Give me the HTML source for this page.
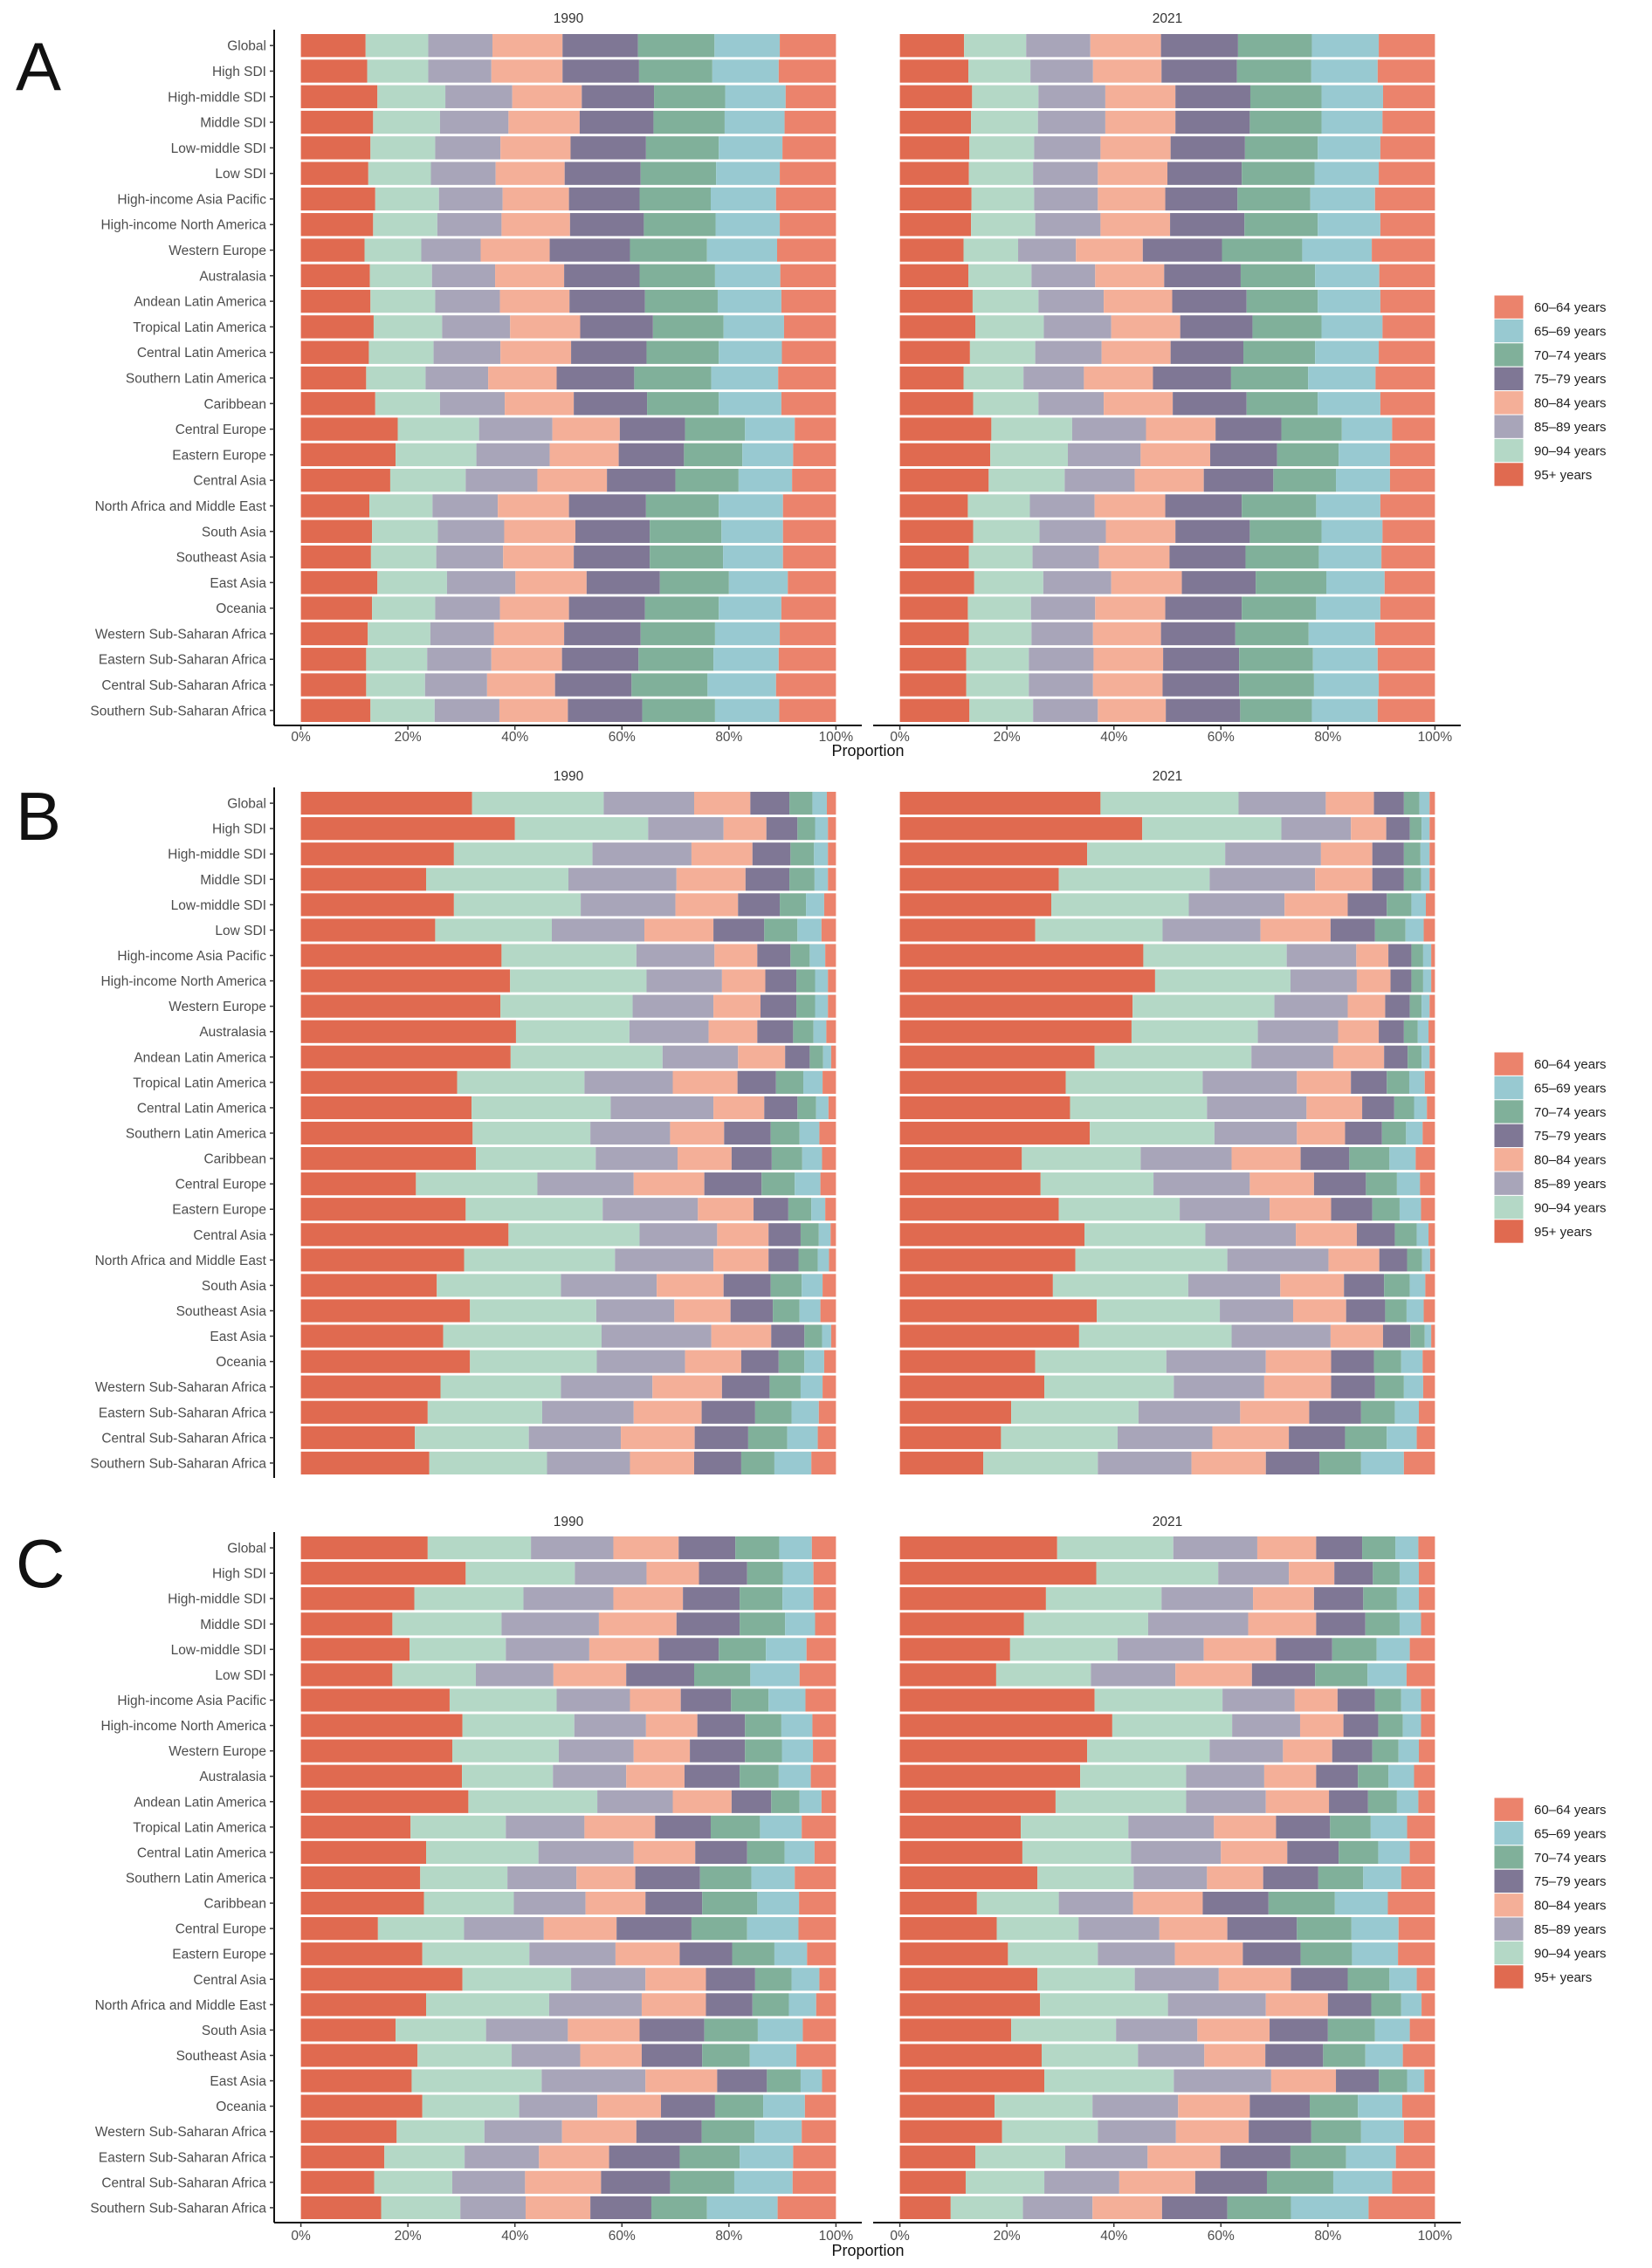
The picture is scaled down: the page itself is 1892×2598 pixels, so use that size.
<!DOCTYPE html>
<html><head><meta charset="utf-8"><title>Population proportion by age group</title>
<style>
html,body{margin:0;padding:0;background:#fff;}
svg{display:block;font-family:"Liberation Sans",Arial,sans-serif;}
</style></head>
<body>
<svg id="chart" width="1892" height="2598" viewBox="0 0 1892 2598" xmlns="http://www.w3.org/2000/svg"></svg>
<script>
const regions = ["Global","High SDI","High-middle SDI","Middle SDI","Low-middle SDI","Low SDI","High-income Asia Pacific","High-income North America","Western Europe","Australasia","Andean Latin America","Tropical Latin America","Central Latin America","Southern Latin America","Caribbean","Central Europe","Eastern Europe","Central Asia","North Africa and Middle East","South Asia","Southeast Asia","East Asia","Oceania","Western Sub-Saharan Africa","Eastern Sub-Saharan Africa","Central Sub-Saharan Africa","Southern Sub-Saharan Africa"];
const stackOrder = ["95+ years","90-94 years","85-89 years","80-84 years","75-79 years","70-74 years","65-69 years","60-64 years"];
const legendOrder = ["60\u201364 years","65\u201369 years","70\u201374 years","75\u201379 years","80\u201384 years","85\u201389 years","90\u201394 years","95+ years"];
const years = ["1990","2021"];
const tickLabels = ["0%","20%","40%","60%","80%","100%"];
const tickValues = [0,20,40,60,80,100];

// cumulative breakpoints (%) from left: after 95+, 90-94, 85-89, 80-84, 75-79, 70-74, 65-69
const cumA1990 = [
[12.1,23.8,35.8,48.9,63.0,77.3,89.5],[12.4,23.8,35.6,48.9,63.2,76.9,89.3],[14.3,27,39.5,52.5,66,79.3,90.6],[13.5,26,38.8,52.1,65.9,79.2,90.4],[13,25.1,37.3,50.4,64.5,78.1,90],[12.6,24.3,36.4,49.3,63.5,77.6,89.5],[13.9,25.8,37.7,50.1,63.3,76.6,88.8],[13.5,25.5,37.5,50.3,64.1,77.5,89.5],[11.9,22.5,33.6,46.5,61.5,75.9,89],[12.9,24.5,36.3,49.2,63.3,77.4,89.6],[13,25.1,37.2,50.2,64.3,77.9,89.8],[13.6,26.4,39.1,52.2,65.8,79,90.3],[12.7,24.8,37.3,50.5,64.6,78.1,89.9],[12.2,23.3,35,47.8,62.3,76.7,89.2],[13.9,26,38.1,51,64.7,78.1,89.8],[18.1,33.3,47,59.6,71.8,83,92.3],[17.7,32.8,46.5,59.4,71.6,82.5,92],[16.7,30.8,44.2,57.2,70,81.8,91.8],[12.8,24.6,36.8,50.1,64.5,78.1,90.1],[13.3,25.6,38,51.3,65.2,78.6,90.1],[13.1,25.3,37.8,51,65.2,78.9,90.1],[14.3,27.3,40.1,53.4,67.1,80,91],[13.3,25.1,37.2,50.1,64.3,78.1,89.8],[12.5,24.2,36.1,49.2,63.5,77.4,89.5],[12.2,23.6,35.6,48.8,63.1,77.1,89.3],[12.2,23.2,34.8,47.5,61.8,76,88.8],[13,25,37.1,49.9,63.8,77.4,89.4]];
const cumA2021 = [
[12,23.6,35.6,48.8,63.2,77,89.5],[12.8,24.4,36.1,48.9,63,76.9,89.3],[13.5,25.9,38.4,51.5,65.5,78.8,90.3],[13.3,25.8,38.4,51.5,65.4,78.8,90.2],[13,25.1,37.5,50.6,64.5,78.1,89.8],[12.9,24.9,37,50,63.9,77.5,89.5],[13.4,25.1,37,49.6,63.1,76.7,88.8],[13.3,25.3,37.5,50.5,64.4,78.1,89.8],[11.9,22.1,32.9,45.4,60.2,75.2,88.2],[12.8,24.6,36.5,49.4,63.7,77.6,89.6],[13.6,25.9,38.1,50.9,64.8,78.1,89.8],[14.1,26.9,39.5,52.4,65.9,78.8,90.2],[13.1,25.3,37.7,50.6,64.2,77.6,89.5],[11.9,23.1,34.4,47.3,61.9,76.3,88.9],[13.7,25.9,38.1,51,64.8,78.1,89.8],[17.1,32.2,46,59,71.3,82.6,92],[16.9,31.4,45,58,70.5,82,91.6],[16.6,30.8,43.9,56.8,69.8,81.5,91.6],[12.7,24.3,36.4,49.6,63.9,77.8,89.8],[13.7,26.1,38.5,51.5,65.4,78.8,90.2],[12.9,24.8,37.2,50.4,64.6,78.3,90],[13.9,26.8,39.5,52.7,66.5,79.7,90.6],[12.7,24.5,36.5,49.6,63.9,77.8,89.8],[12.9,24.6,36.1,48.8,62.7,76.4,88.8],[12.4,24.1,36.2,49.2,63.4,77.2,89.3],[12.4,24.1,36.1,49.1,63.4,77.4,89.5],[13,24.9,37,49.7,63.6,77,89.3]];
const cumB1990 = [
[32,56.6,73.5,84,91.3,95.6,98.3],[40,64.9,79,87,92.8,96.1,98.5],[28.6,54.5,73,84.4,91.5,95.9,98.5],[23.4,50,70.2,83.1,91.3,96,98.5],[28.6,52.3,70,81.7,89.5,94.4,97.8],[25.1,46.9,64.2,77.1,86.6,92.8,97.3],[37.5,62.7,77.3,85.3,91.5,95.1,98],[39.1,64.6,78.7,86.8,92.6,96.1,98.5],[37.3,62,77.1,85.9,92.6,96.1,98.5],[40.2,61.4,76.2,85.3,92,95.8,98.2],[39.2,67.6,81.7,90.5,95.1,97.6,99.1],[29.2,53,69.5,81.6,88.8,93.9,97.5],[31.9,57.9,77.1,86.6,92.8,96.3,98.6],[32.1,54.1,69,79.1,87.8,93.2,96.9],[32.7,55.1,70.4,80.5,88,93.7,97.4],[21.5,44.2,62.2,75.4,86.1,92.3,97.1],[30.8,56.4,74.2,84.6,91.1,95.4,98],[38.8,63.3,77.8,87.4,93.4,96.8,99],[30.5,58.7,77.1,87.4,93,96.6,98.7],[25.4,48.6,66.5,79,87.8,93.6,97.5],[31.6,55.2,69.8,80.3,88.2,93.2,97.1],[26.6,56.2,76.7,87.9,94.1,97.4,99.1],[31.6,55.3,71.8,82.3,89.3,94.1,97.8],[26.1,48.6,65.7,78.7,87.6,93.4,97.5],[23.7,45.1,62.2,74.9,84.9,91.7,96.8],[21.3,42.6,59.8,73.6,83.6,90.9,96.6],[24,46,61.5,73.5,82.3,88.5,95.4]];
const cumB2021 = [
[37.5,63.3,79.6,88.6,94.2,97.1,99],[45.3,71.3,84.3,90.9,95.3,97.5,99],[35,60.8,78.7,88.3,94.2,97.3,99],[29.7,57.9,77.6,88.3,94.2,97.4,99],[28.3,54,71.9,83.7,91,95.6,98.3],[25.3,49.1,67.4,80.5,88.8,94.5,97.9],[45.5,72.3,85.3,91.3,95.6,97.8,99.3],[47.7,73,85.4,91.7,95.6,97.8,99.3],[43.5,70,83.7,90.7,95.3,97.5,99],[43.3,66.9,81.9,89.5,94.2,96.8,98.8],[36.4,65.7,81,90.5,94.9,97.5,99],[31,56.6,74.2,84.3,91,95.2,98.1],[31.8,57.4,76,86.4,92.4,96.1,98.5],[35.5,58.8,74.2,83.2,90.1,94.6,97.7],[22.8,45,62,74.9,84,91.5,96.4],[26.3,47.4,65.4,77.4,87.1,92.9,97.2],[29.7,52.3,69.1,80.6,88.3,93.4,97.4],[34.5,57.1,74,85.4,92.5,96.6,98.8],[32.8,61.2,80.1,89.6,94.8,97.6,99.1],[28.6,53.9,71.1,83,90.5,95.3,98.2],[36.8,59.8,73.5,83.4,90.7,94.7,97.9],[33.5,62,80.5,90.3,95.4,98.1,99.3],[25.3,49.8,68.4,80.6,88.6,93.7,97.7],[27,51.2,68.1,80.6,88.8,94.2,97.8],[20.8,44.6,63.6,76.5,86.2,92.5,97],[18.9,40.7,58.4,72.7,83.2,91,96.6],[15.6,37,54.5,68.4,78.4,86.2,94.2]];
const cumC1990 = [
[23.7,43,58.4,70.6,81.2,89.4,95.5],[30.8,51.2,64.6,74.4,83.4,90.1,95.8],[21.2,41.6,58.4,71.4,82,90,95.8],[17.1,37.5,55.7,70.2,82,90.5,96.1],[20.3,38.3,53.9,66.9,78.1,86.9,94.5],[17.1,32.7,47.2,60.8,73.5,84,93.2],[27.8,47.8,61.5,71,80.4,87.4,94.3],[30.2,51.1,64.5,74.1,83,89.8,95.6],[28.3,48.2,62.2,72.7,83,89.9,95.7],[30.1,47.1,60.8,71.7,82,89.3,95.3],[31.3,55.4,69.5,80.5,87.9,93.2,97.3],[20.5,38.3,53,66.2,76.6,85.8,93.6],[23.4,44.4,62.2,73.7,83.4,90.4,96],[22.3,38.6,51.5,62.5,74.6,84.2,92.3],[23,39.8,53.2,64.4,75,85.3,93.1],[14.4,30.5,45.4,59,73,83.4,93],[22.7,42.7,58.8,70.8,80.6,88.5,94.6],[30.2,50.5,64.4,75.7,84.9,91.7,96.9],[23.4,46.4,63.7,75.7,84.4,91.2,96.3],[17.7,34.6,49.9,63.3,75.4,85.4,93.8],[21.8,39.4,52.2,63.7,75,83.9,92.6],[20.7,45,64.4,77.8,87.1,93.4,97.4],[22.7,40.8,55.4,67.3,77.4,86.4,94.2],[17.9,34.3,48.8,62.7,74.9,84.8,93.6],[15.6,30.6,44.5,57.6,70.8,82,92],[13.7,28.3,41.9,56.1,69,81,91.9],[15,29.8,42,54.1,65.5,75.9,89.1]];
const cumC2021 = [
[29.4,51.1,66.8,77.8,86.4,92.6,96.9],[36.7,59.5,72.7,81.2,88.4,93.4,97],[27.3,48.9,66,77.4,86.6,92.9,97],[23.2,46.4,65.1,77.8,87,93.4,97.4],[20.6,40.7,56.8,70.3,80.8,89.1,95.3],[18,35.7,51.5,65.8,77.6,87.4,94.7],[36.4,60.3,73.8,81.8,88.8,93.7,97.4],[39.7,62.1,74.8,82.9,89.4,94,97.4],[35,57.9,71.6,80.8,88.3,93.2,97],[33.7,53.5,68.1,77.8,85.6,91.3,96.1],[29.1,53.5,68.4,80.2,87.5,92.9,96.9],[22.6,42.7,58.7,70.3,80.4,88,94.8],[22.9,43.2,60,72.4,82,89.4,95.3],[25.7,43.7,57.4,67.9,78.2,86.6,93.7],[14.4,29.7,43.6,56.6,68.9,81.3,91.2],[18.1,33.4,48.5,61.2,74.2,84.4,93.2],[20.2,37,51.4,64.1,74.9,84.5,93.1],[25.7,43.9,59.6,73.1,83.7,91.5,96.6],[26.2,50.1,68.4,80,88.1,93.7,97.5],[20.8,40.4,55.6,69.1,80,88.8,95.3],[26.5,44.5,56.9,68.3,79.1,87,94],[27,51.2,69.4,81.5,89.5,94.8,98],[17.7,36,52,65.4,76.6,85.6,93.9],[19.1,37,51.6,65.2,76.9,86.2,94.2],[14.1,30.9,46.3,59.9,73,83.4,92.7],[12.3,27,41,55.2,68.6,81,92],[9.5,23,36,49,61.2,73.1,87.6]];

const stackColors = ["#E06A50","#B4D8C6","#A8A5B9","#F4AF98","#7F7795","#80B09A","#98C9D1","#EB836C"];
const legendColors = ["#EB836C","#98C9D1","#80B09A","#7F7795","#F4AF98","#A8A5B9","#B4D8C6","#E06A50"];

const NS = "http://www.w3.org/2000/svg";
const svg = document.getElementById("chart");
function mk(tag, attrs, parent, text){
  const e = document.createElementNS(NS, tag);
  for (const k in attrs) e.setAttribute(k, attrs[k]);
  if (text !== undefined) e.textContent = text;
  (parent || svg).appendChild(e);
  return e;
}

const facetX = [{x0:344.6, x1:957.4, pl:314, pr:987},{x0:1030.6, x1:1643.4, pl:1000, pr:1673}];
const panels = [
  {letter:"A", letterY:103, title:20, top:39, bot:827, axis:true, axisY:831, tickY:849, propY:866, legendY:338, data:[cumA1990,cumA2021]},
  {letter:"B", letterY:962, title:888, top:907, bot:1689, axis:false, legendY:1205, data:[cumB1990,cumB2021]},
  {letter:"C", letterY:1818, title:1742, top:1760, bot:2542, axis:true, axisY:2546, tickY:2566, propY:2584, legendY:2059, data:[cumC1990,cumC2021]}
];

panels.forEach(function(p, pi){
  const g = mk("g", {});
  
  
  const lt = mk("text", {x:18, y:p.letterY, "font-size":78, fill:"#111"}, g, p.letter);
  
  

  const n = regions.length;
  const pitch = (p.bot - p.top) / (n - 1 + 0.9);
  const bh = pitch * 0.9;
  function yPos(i){ return p.top + i * pitch; }

  // y axis line & labels
  const yl = mk("line", {x1:314, x2:314, y1:p.top - 5, y2:p.bot + 4, stroke:"#111", "stroke-width":2}, g);
  
  
  regions.forEach(function(r, i){
    const cy = yPos(i) + bh / 2;
    const tk = mk("line", {x1:309, x2:314, y1:cy, y2:cy, stroke:"#333", "stroke-width":1.5}, g);
    
    
    const t = mk("text", {x:305, y:cy + 5.5, "text-anchor":"end", "font-size":15.5, fill:"#4d4d4d"}, g, r);
    
    
  });

  facetX.forEach(function(f, fi){
    function xScale(v){ return f.x0 + (f.x1 - f.x0) * v / 100; }
    const tt = mk("text", {x:(f.x0 + f.x1) / 2, y:p.title + 6, "text-anchor":"middle", "font-size":15.5, fill:"#333"}, g, years[fi]);
    
    
    const cum = p.data[fi];
    cum.forEach(function(row, i){
      const pts = [0].concat(row).concat([100]);
      for (let s = 0; s < 8; s++){
        const xa = xScale(pts[s]), xb = xScale(pts[s + 1]);
        const rc = mk("rect", {x:xa, y:yPos(i), width:Math.max(0, xb - xa), height:bh, fill:stackColors[s]}, g);
        
        
      }
    });
    if (p.axis){
      const xl = mk("line", {x1:f.pl, x2:f.pr, y1:p.axisY, y2:p.axisY, stroke:"#111", "stroke-width":2}, g);
      
      
      tickValues.forEach(function(v, k){
        const x = xScale(v);
        const tk = mk("line", {x1:x, x2:x, y1:p.axisY, y2:p.axisY + 5, stroke:"#333", "stroke-width":1.5}, g);
        
        
        const t = mk("text", {x:x, y:p.tickY, "text-anchor":"middle", "font-size":15.5, fill:"#4d4d4d"}, g, tickLabels[k]);
        
        
      });
    }
  });
  if (p.axis){
    const pt = mk("text", {x:994, y:p.propY, "text-anchor":"middle", "font-size":18, fill:"#111"}, g, "Proportion");
    
    
  }
  // legend
  const lg = mk("g", {}, g);
  
  
  legendOrder.forEach(function(lab, k){
    const ky = p.legendY + k * 27.4;
    const r = mk("rect", {x:1711, y:ky, width:34, height:27.4, fill:legendColors[k], stroke:"#fff", "stroke-width":1}, lg);
    
    
    const t = mk("text", {x:1757, y:ky + 19, "font-size":15, fill:"#222"}, lg, lab);
    
    
  });
});
</script>
</body></html>
